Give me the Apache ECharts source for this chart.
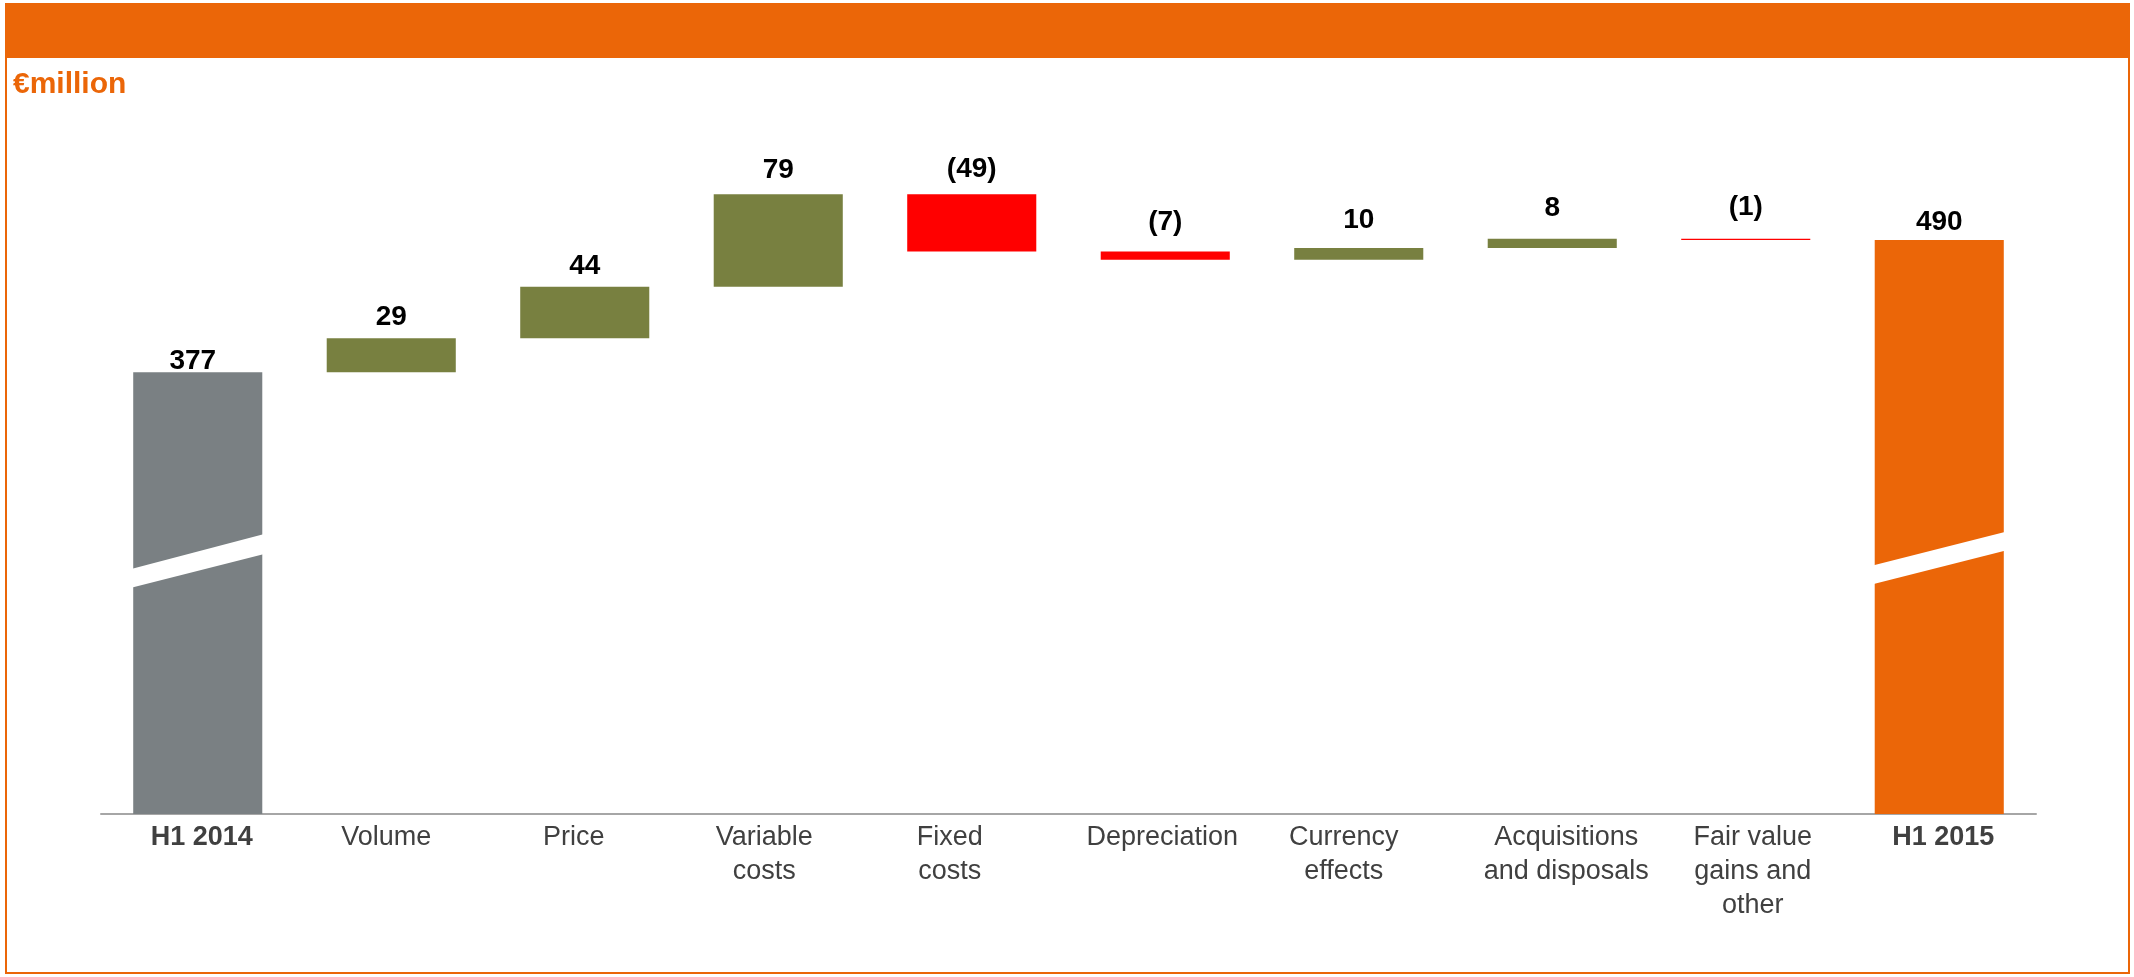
<!DOCTYPE html>
<html>
<head>
<meta charset="utf-8">
<script src="https://cdn.jsdelivr.net/npm/echarts@6/dist/echarts.min.js"></script>
<style>
html,body{margin:0;padding:0;background:#fff;}
#chart{width:2134px;height:977px;}
</style>
</head>
<body>
<div id="chart"></div>
<script>
// ---- data ----
const categories = ['H1 2014','Volume','Price','Variable\ncosts','Fixed\ncosts','Depreciation','Currency\neffects','Acquisitions\nand disposals','Fair value\ngains and\nother','H1 2015'];
const values = [377, 29, 44, 79, -49, -7, 10, 8, -1, 490];
const isTotal = [true, false, false, false, false, false, false, false, false, true];
const unitLabel = '€million';
// decorative axis-break band (data units): [category index, left low, left high, right low, right high]
const breakBands = [[0, 193, 209, 222, 239], [9, 196, 212, 225, 241]];

// ---- styles ----
const labelGap = [-3, 7, 6, 10, 11, 15, 14, 16, 17, 4];
const labelShiftX = [-5, 0, 0, 0, 0, 0, 0, 0, 0, 0];
const tickLabelShift = [4, -5, -11, -14, -22, -3, -15, 14, 7, 4];
const C_GRAY = '#7A8083', C_OLIVE = '#788040', C_RED = '#FF0000', C_ORANGE = '#EB6608';
const FONT = 'Liberation Sans, Arial, sans-serif';

// build waterfall
let running = 0;
const baseData = [], barData = [];
values.forEach((v, i) => {
  let base, h, color;
  if (isTotal[i]) {
    base = 0; h = v; running = v;
    color = i === 0 ? C_GRAY : C_ORANGE;
  } else {
    if (v >= 0) { base = running; h = v; color = C_OLIVE; }
    else { base = running + v; h = -v; color = C_RED; }
    running += v;
  }
  baseData.push(base);
  barData.push({
    value: h,
    itemStyle: { color: color },
    label: { distance: labelGap[i], offset: [labelShiftX[i], 0] }
  });
});

const fmtVal = v => v < 0 ? '(' + (-v) + ')' : String(v);

// rich styles per tick label (horizontal shift via padding)
const rich = {};
tickLabelShift.forEach((s, i) => {
  rich['c' + i] = {
    fontSize: 27, lineHeight: 34, color: '#404040', fontFamily: FONT,
    fontWeight: isTotal[i] ? 'bold' : 'normal',
    padding: s >= 0 ? [0, 0, 0, 2 * s] : [0, -2 * s, 0, 0]
  };
});

const chart = echarts.init(document.getElementById('chart'), null, {renderer: 'canvas'});
chart.setOption({
  animation: false,
  backgroundColor: '#fff',
  textStyle: { fontFamily: FONT },
  graphic: [
    { type: 'rect', z: 0, shape: { x: 6, y: 4, width: 2123, height: 969 },
      style: { fill: 'none', stroke: C_ORANGE, lineWidth: 2 } },
    { type: 'rect', z: 1, shape: { x: 5, y: 3, width: 2125, height: 55 },
      style: { fill: C_ORANGE } },
    { type: 'text', z: 2, x: 13, y: 85,
      style: { text: unitLabel, fill: C_ORANGE, font: 'bold 30px "Liberation Sans", Arial, sans-serif', verticalAlign: 'middle' } }
  ],
  grid: { left: 101, right: 98, top: 111, bottom: 163, containLabel: false },
  xAxis: {
    type: 'category',
    data: categories,
    axisTick: { show: false },
    axisLine: { lineStyle: { color: '#A6A6A6', width: 2 } },
    axisLabel: {
      interval: 0,
      margin: 7,
      color: '#404040',
      fontSize: 27,
      lineHeight: 34,
      fontFamily: FONT,
      formatter: (val, idx) => val.split('\n').map(t => '{c' + idx + '|' + t + '}').join('\n'),
      rich: rich
    }
  },
  yAxis: {
    type: 'value', min: 0, max: 600, show: false,
    splitLine: { show: false }
  },
  series: [
    {
      type: 'bar', stack: 'wf', data: baseData, barWidth: '66.7%',
      itemStyle: { color: 'transparent' }, silent: true
    },
    {
      type: 'bar', stack: 'wf', data: barData, barWidth: '66.7%',
      label: {
        show: true, position: 'top',
        color: '#000', fontSize: 28, fontWeight: 'bold',
        fontFamily: FONT,
        formatter: p => fmtVal(values[p.dataIndex])
      }
    },
    {
      type: 'custom', z: 5, silent: true,
      data: breakBands,
      renderItem: (params, api) => {
        const idx = api.value(0);
        const x = api.coord([idx, 0])[0];
        const half = api.size([1, 0])[0] * 0.667 / 2 + 2;
        const y = v => api.coord([idx, v])[1];
        return {
          type: 'polygon',
          shape: { points: [
            [x - half, y(api.value(1))],
            [x + half, y(api.value(3))],
            [x + half, y(api.value(4))],
            [x - half, y(api.value(2))]
          ] },
          style: { fill: '#fff' }
        };
      }
    }
  ]
});
</script>
</body>
</html>
